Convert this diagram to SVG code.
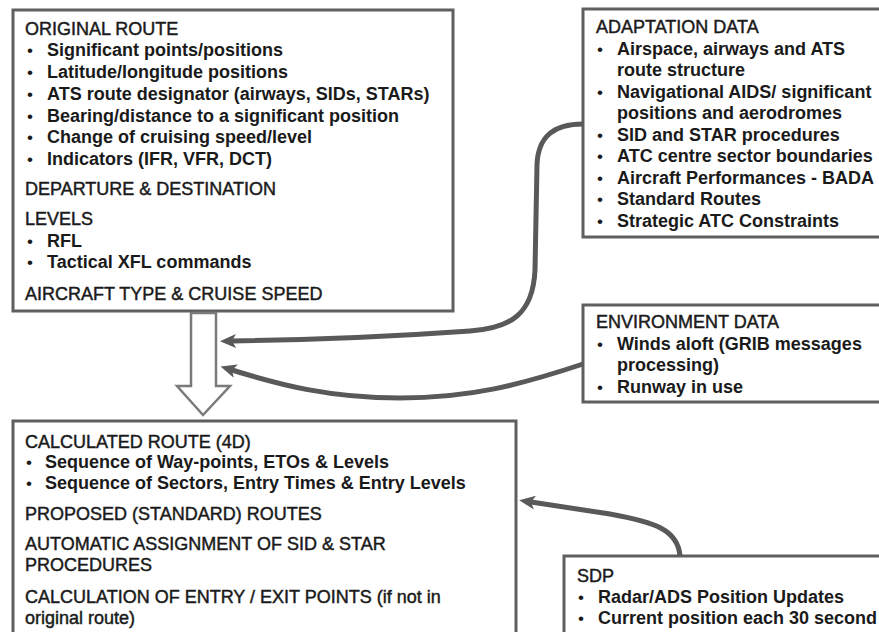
<svg xmlns="http://www.w3.org/2000/svg" width="879" height="632" viewBox="0 0 879 632">
<defs>
<style>
.box{fill:#fff;stroke:#5f5f5f;stroke-width:3}
text{font-family:"Liberation Sans",Arial,sans-serif;font-size:18px;fill:#1a1a1a}
.h{font-weight:normal;stroke:#1a1a1a;stroke-width:0.45}
.b{font-weight:bold}
.u{font-weight:normal;font-size:17px}
.con{fill:none;stroke:#595959;stroke-width:5;marker-end:url(#ah)}
.big{fill:#fff;stroke:#7a7a7a;stroke-width:2.5}
</style>
<marker id="ah" markerUnits="userSpaceOnUse" markerWidth="17" markerHeight="16" refX="4" refY="8" orient="auto">
<path d="M0,1 L16,8 L0,15 L4,8 z" fill="#595959"/>
</marker>
</defs>
<rect width="879" height="632" fill="#fff"/>

<g id="original-route">
<rect class="box" x="13" y="10" width="440" height="301"/>
<text class="h" x="25" y="34.5">ORIGINAL ROUTE</text>
<text class="u" x="27" y="56">•</text><text class="b" x="47" y="56">Significant points/positions</text>
<text class="u" x="27" y="78">•</text><text class="b" x="47" y="78">Latitude/longitude positions</text>
<text class="u" x="27" y="100">•</text><text class="b" x="47" y="100">ATS route designator (airways, SIDs, STARs)</text>
<text class="u" x="27" y="122">•</text><text class="b" x="47" y="122">Bearing/distance to a significant position</text>
<text class="u" x="27" y="143">•</text><text class="b" x="47" y="143">Change of cruising speed/level</text>
<text class="u" x="27" y="165">•</text><text class="b" x="47" y="165">Indicators (IFR, VFR, DCT)</text>
<text class="h" x="25" y="195">DEPARTURE &amp; DESTINATION</text>
<text class="h" x="25" y="225">LEVELS</text>
<text class="u" x="27" y="247">•</text><text class="b" x="47" y="247">RFL</text>
<text class="u" x="27" y="268">•</text><text class="b" x="47" y="268">Tactical XFL commands</text>
<text class="h" x="25" y="300">AIRCRAFT TYPE &amp; CRUISE SPEED</text>
</g>

<g id="adaptation-data">
<rect class="box" x="583" y="9" width="310" height="228"/>
<text class="h" x="596" y="33">ADAPTATION DATA</text>
<text class="u" x="597" y="54.5">•</text><text class="b" x="617" y="54.5">Airspace, airways and ATS</text>
<text class="b" x="617" y="76">route structure</text>
<text class="u" x="597" y="97.5">•</text><text class="b" x="617" y="97.5">Navigational AIDS/ significant</text>
<text class="b" x="617" y="119">positions and aerodromes</text>
<text class="u" x="597" y="140.5">•</text><text class="b" x="617" y="140.5">SID and STAR procedures</text>
<text class="u" x="597" y="162">•</text><text class="b" x="617" y="162">ATC centre sector boundaries</text>
<text class="u" x="597" y="183.5">•</text><text class="b" x="617" y="183.5">Aircraft Performances - BADA</text>
<text class="u" x="597" y="205">•</text><text class="b" x="617" y="205">Standard Routes</text>
<text class="u" x="597" y="226.5">•</text><text class="b" x="617" y="226.5">Strategic ATC Constraints</text>
</g>

<g id="environment-data">
<rect class="box" x="583" y="305" width="310" height="97"/>
<text class="h" x="596" y="328">ENVIRONMENT DATA</text>
<text class="u" x="597" y="350">•</text><text class="b" x="617" y="350">Winds aloft (GRIB messages</text>
<text class="b" x="617" y="371">processing)</text>
<text class="u" x="597" y="393">•</text><text class="b" x="617" y="393">Runway in use</text>
</g>

<g id="calculated-route">
<rect class="box" x="13" y="421" width="503" height="230"/>
<text class="h" x="25" y="447.5">CALCULATED ROUTE (4D)</text>
<text class="u" x="26" y="468">•</text><text class="b" x="45" y="468">Sequence of Way-points, ETOs &amp; Levels</text>
<text class="u" x="26" y="489">•</text><text class="b" x="45" y="489">Sequence of Sectors, Entry Times &amp; Entry Levels</text>
<text class="h" x="25" y="519.5">PROPOSED (STANDARD) ROUTES</text>
<text class="h" x="25" y="549.5">AUTOMATIC ASSIGNMENT OF SID &amp; STAR</text>
<text class="h" x="25" y="571">PROCEDURES</text>
<text class="h" x="25" y="603">CALCULATION OF ENTRY / EXIT POINTS (if not in</text>
<text class="h" x="25" y="624">original route)</text>
</g>

<g id="sdp">
<rect class="box" x="564" y="556" width="330" height="95"/>
<text class="h" x="577" y="582">SDP</text>
<text class="u" x="578" y="603">•</text><text class="b" x="598" y="603">Radar/ADS Position Updates</text>
<text class="u" x="578" y="624">•</text><text class="b" x="598" y="624">Current position each 30 second</text>
</g>

<g id="flow-arrow">
<polygon class="big" points="191,313 216,313 216,386 230,386 203,415 177,386 191,386"/>
</g>

<g id="connectors">
<path class="con" d="M583,124 C555,124 538,135 537,165 L535,270 C533,315 510,328 470,331 C400,336 300,340 232,341"/>
<path class="con" d="M583,364 C520,385 470,398 400,398 C330,398 280,385 232,370"/>
<path class="con" d="M680,556 C678,530 655,522 610,514 L531,502"/>
</g>
</svg>
